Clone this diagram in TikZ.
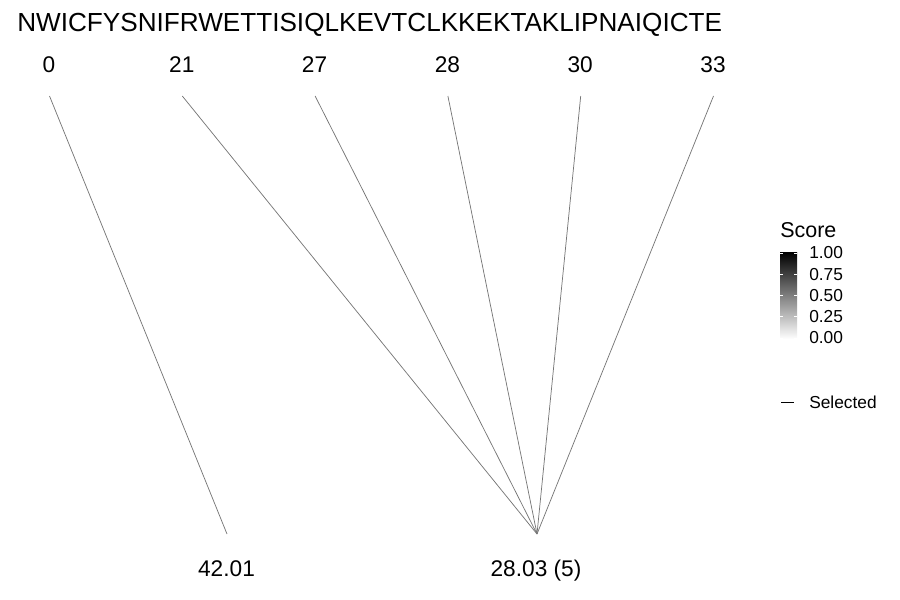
\documentclass[tikz,border=0pt]{standalone}
\usepackage{fontspec}
\setmainfont{Liberation Sans}
\definecolor{linkgray}{RGB}{118,118,118}
\tikzset{
  seqtext/.style={anchor=base west, inner sep=0pt, font=\fontsize{19.6}{22}\selectfont},
  postext/.style={anchor=base, inner sep=0pt, font=\fontsize{17}{20}\selectfont},
  legtitle/.style={anchor=base west, inner sep=0pt, font=\fontsize{16.1}{18}\selectfont},
  legtext/.style={anchor=west, inner sep=0pt, font=\fontsize{13}{15}\selectfont},
  link/.style={draw=linkgray, line width=0.55pt}
}
\begin{document}
\begin{tikzpicture}[x=0.75pt,y=-0.75pt]
  \useasboundingbox (0,0) rectangle (900,600);

  % sequence and positions
  \node[seqtext] (seq) at (17,31) {NWICFYSNIFRWETTISIQLKEVTCLKKEKTAKLIPNAIQICTE};
  \foreach \p [count=\i from 0] in {0,21,27,28,30,33}{
    \node[postext] (pos\i) at (49+132.8*\i,72) {\p};
    \coordinate (top\i) at (49.5+132.8*\i,96);
  }

  % scores
  \coordinate (end0) at (227,534);
  \coordinate (end1) at (537,534);
  \node[postext] (score0) at (226.5,576) {42.01};
  \node[postext] (score1) at (536,576) {28.03 (5)};

  \draw[link] (top0) -- (end0);
  \foreach \i in {1,...,5}
    \draw[link] (top\i) -- (end1);

  % legend
  \node[legtitle] (legtitle) at (780,237) {Score};
  \shade[top color=black, bottom color=white] (780,252) rectangle (797,339);
  \foreach \v [count=\k from 0] in {1.00,0.75,0.50,0.25,0.00}{
    \draw[white, line width=0.5pt] (780,253+21.25*\k) -- (783,253+21.25*\k);
    \draw[white, line width=0.5pt] (794,253+21.25*\k) -- (797,253+21.25*\k);
    \node[legtext] (tick\k) at (809,253+21.25*\k) {\v};
  }
  \coordinate (keyl) at (781,402);
  \coordinate (keyr) at (794,402);
  \draw[draw=black, line width=0.5pt] (keyl) -- (keyr);
  \node[legtext] (keysel) at (809,402) {Selected};
\end{tikzpicture}
\end{document}
